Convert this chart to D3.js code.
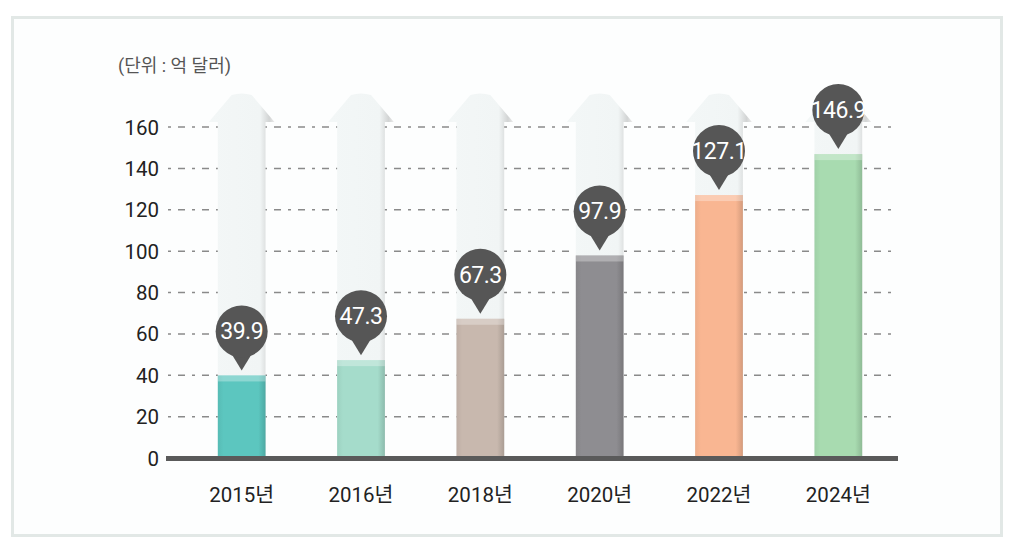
<!DOCTYPE html>
<meta charset="utf-8">
<style>
    body { margin: 0; background: #fff; }
    text { font-family: Roboto, "Noto Sans CJK KR", sans-serif; }
</style>
<body>
<div id="chart"></div>
<script src="https://cdn.jsdelivr.net/npm/d3@7"></script>
<script>
    var years = ["2015년", "2016년", "2018년", "2020년", "2022년", "2024년"];
    var values = [39.9, 47.3, 67.3, 97.9, 127.1, 146.9];
    var barColors = ["#5cc6bf", "#a5dccb", "#c8b8ae", "#8e8d91", "#f9b692", "#a8dbb0"];
    var yTicks = [0, 20, 40, 60, 80, 100, 120, 140, 160];
    var unitLabel = "(단위 : 억 달러)";

    var width = 1014,
        height = 550;

    var svg = d3.select("#chart").append("svg")
        .attr("width", width)
        .attr("height", height);

    var defs = svg.append("defs");

    // outer frame
    svg.append("rect")
        .attr("x", 12.5).attr("y", 17.5)
        .attr("width", 989).attr("height", 518)
        .attr("fill", "#fdfefe")
        .attr("stroke", "#e2e8e6")
        .attr("stroke-width", 3);

    var x = d3.scaleBand()
        .domain(years)
        .range([182, 898])
        .paddingInner(0.6)
        .paddingOuter(0.3);

    var y = d3.scaleLinear()
        .domain([0, 160])
        .range([458, 127]);

    // gradients
    var ghost = defs.append("linearGradient").attr("id", "ghost");
    ghost.append("stop").attr("offset", "0%").attr("stop-color", "#f3f7f7");
    ghost.append("stop").attr("offset", "78%").attr("stop-color", "#f1f5f5");
    ghost.append("stop").attr("offset", "92%").attr("stop-color", "#d2d4d4");
    ghost.append("stop").attr("offset", "100%").attr("stop-color", "#ececec");

    barColors.forEach(function (c, i) {
        var g = defs.append("linearGradient").attr("id", "bar" + i);
        var base = d3.color(c);
        g.append("stop").attr("offset", "0%").attr("stop-color", base.darker(0.15));
        g.append("stop").attr("offset", "12%").attr("stop-color", base);
        g.append("stop").attr("offset", "85%").attr("stop-color", base);
        g.append("stop").attr("offset", "100%").attr("stop-color", base.darker(0.45));
    });

    // gridlines
    svg.append("g")
        .selectAll("line")
        .data(yTicks.filter(function (d) { return d > 0; }))
        .enter().append("line")
        .attr("x1", 168).attr("x2", 898)
        .attr("y1", function (d) { return y(d); })
        .attr("y2", function (d) { return y(d); })
        .attr("stroke", "#8a8a8a")
        .attr("stroke-width", 1.5)
        .attr("stroke-dasharray", "3 7 7 7");

    // ghost arrows
    var bw = x.bandwidth();
    svg.append("g")
        .selectAll("path")
        .data(years)
        .enter().append("path")
        .attr("d", function (d) {
            var x0 = x(d), x1 = x(d) + bw, cx = x(d) + bw / 2;
            var top = 95, shoulder = 122;
            return "M" + x0 + "," + y(0) +
                "L" + x0 + "," + shoulder +
                "L" + (x0 - 9) + "," + shoulder +
                "L" + (cx - 10) + "," + top +
                "Q" + cx + "," + (top - 3) + " " + (cx + 10) + "," + top +
                "L" + (x1 + 9) + "," + shoulder +
                "L" + x1 + "," + shoulder +
                "L" + x1 + "," + y(0) + "Z";
        })
        .attr("fill", "url(#ghost)");

    // bars
    var bars = svg.append("g")
        .selectAll("g")
        .data(values)
        .enter().append("g");

    bars.append("rect")
        .attr("x", function (d, i) { return x(years[i]); })
        .attr("y", function (d) { return y(d); })
        .attr("width", bw)
        .attr("height", function (d) { return y(0) - y(d); })
        .attr("fill", function (d, i) { return "url(#bar" + i + ")"; });

    bars.append("rect")
        .attr("x", function (d, i) { return x(years[i]); })
        .attr("y", function (d) { return y(d); })
        .attr("width", bw)
        .attr("height", 6)
        .attr("fill", "#fff")
        .attr("opacity", 0.3);

    // baseline
    svg.append("rect")
        .attr("x", 166).attr("y", 456)
        .attr("width", 732).attr("height", 5)
        .attr("fill", "#5a5a5a");

    // y labels
    svg.append("g")
        .selectAll("text")
        .data(yTicks)
        .enter().append("text")
        .attr("x", 159)
        .attr("y", function (d) { return y(d) + 7.5; })
        .attr("text-anchor", "end")
        .attr("font-size", 20.5)
        .attr("fill", "#222")
        .text(function (d) { return d; });

    // x labels
    svg.append("g")
        .selectAll("text")
        .data(years)
        .enter().append("text")
        .attr("x", function (d) { return x(d) + bw / 2; })
        .attr("y", 502)
        .attr("text-anchor", "middle")
        .attr("font-size", 20.5)
        .attr("fill", "#222")
        .text(function (d) { return d; });

    // unit label
    svg.append("text")
        .attr("x", 118).attr("y", 72)
        .attr("font-size", 18)
        .attr("fill", "#555")
        .text(unitLabel);

    // value bubbles
    var bubble = svg.append("g")
        .selectAll("g")
        .data(values)
        .enter().append("g")
        .attr("transform", function (d, i) {
            return "translate(" + (x(years[i]) + bw / 2) + "," + (y(d) - 5) + ")";
        });

    bubble.append("path")
        .attr("d", "M0,0 L-11,-18 L11,-18 Z")
        .attr("fill", "#565656");

    bubble.append("circle")
        .attr("cx", 0).attr("cy", -39)
        .attr("r", 26)
        .attr("fill", "#565656");

    bubble.append("text")
        .attr("x", 0).attr("y", -31)
        .attr("text-anchor", "middle")
        .attr("font-size", 23)
        .attr("fill", "#fff")
        .attr("letter-spacing", -0.5)
        .text(function (d) { return d.toFixed(1); });
</script>
